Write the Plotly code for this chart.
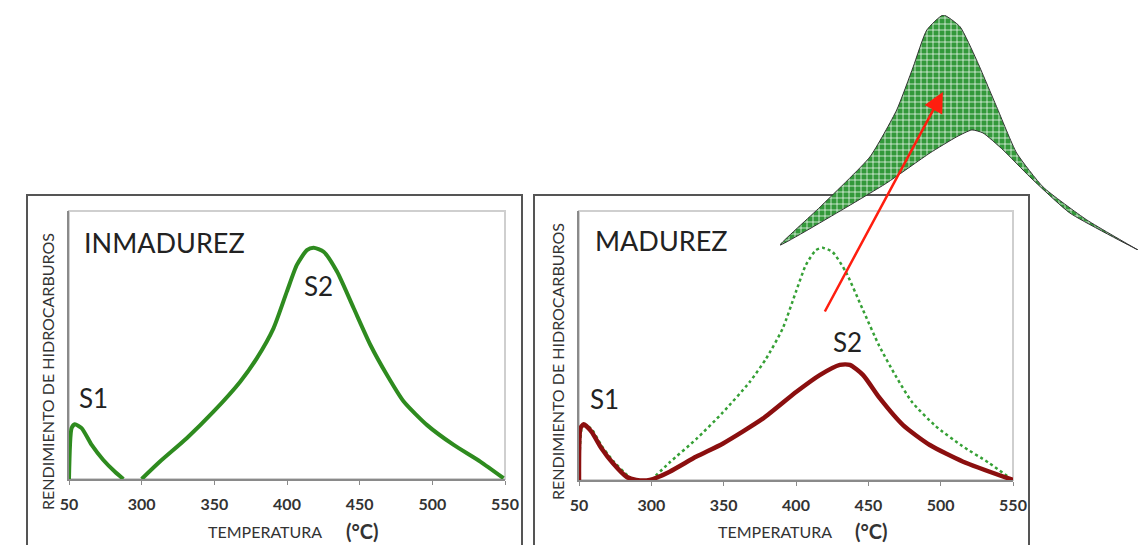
import plotly.graph_objects as go

W, H = 1144, 545

# ---------------- data ----------------
# x in axis units: the axis is broken, the start (250) is labelled "50"
tick_vals = [250, 300, 350, 400, 450, 500, 550]
tick_text = ["50", "300", "350", "400", "450", "500", "550"]

# immature (INMADUREZ) pyrogram: S1 segment, gap, S2 segment
imm_x = [250, 251.8, 254, 258.7, 265.6, 273.6, 281.6, 287.4, None,
         300, 312.6, 331, 349.4, 367.8, 379.2, 390.7, 399.9, 406.8, 413.7,
         418.3, 425.2, 434.4, 445.9, 457.4, 468.8, 480.3, 496.4, 514.7, 533, 549]
imm_y = [0, 19, 20.4, 19, 12.7, 7.1, 2.7, 0, None,
         0, 6.5, 15.2, 25.1, 36.3, 45, 56.2, 69.9, 79.9, 85.4,
         86.3, 84.8, 77.4, 63.7, 50, 38.8, 28.9, 20.1, 12.7, 6.5, 0.3]

# mature (MADUREZ) pyrogram
mat_x = [250, 251, 253.2, 258.6, 265.5, 273.5, 282.8, 289.6, 298.9, 312.7, 331.2,
         349.6, 377.3, 400.3, 416.4, 430.3, 437.2, 446.4, 457.9, 474, 492.5, 515.5, 550]
mat_y = [0, 19.2, 20.7, 18, 11.8, 6.2, 1.2, 0, 0, 3.1, 8.7,
         13.6, 22.9, 32.8, 39, 42.8, 42.8, 39, 30.4, 20.4, 13, 6.8, 0]

# inset: generated-hydrocarbon band (upper and lower outlines)
inset_up_x = [0, 11.2, 25.1, 32.6, 37.2, 41, 45.6, 50.3, 54.9, 60.5, 66.1, 73.5, 85.7, 100]
inset_up_y = [2.1, 18.3, 39.6, 59.6, 77.9, 93.6, 100, 95, 80.9, 61, 41.3, 26.8, 12.8, 0]
inset_lo_x = [0, 15.8, 29.8, 41.9, 49.4, 53.6, 56.7, 62.3, 69.8, 81, 100]
inset_lo_y = [2.1, 15.7, 28.5, 41.3, 48.2, 51.1, 49.8, 42.6, 31.1, 15.7, 0]

# arrow (inset units): tail -> head
arrow_tail = (12.3, -26.8)
arrow_head = (45.5, 67.2)


def px_x(p):
    return p / W


def px_y(p):
    return 1 - p / H


FONT = "Lato"
GREEN = "#2E8B1F"
RED = "#8B0F0F"

fig = go.Figure()

# left panel
fig.add_trace(go.Scatter(x=imm_x, y=imm_y, mode="lines", xaxis="x", yaxis="y",
                         line=dict(color=GREEN, width=4, shape="spline", smoothing=0.6),
                         showlegend=False, hoverinfo="skip"))
# right panel
fig.add_trace(go.Scatter(x=imm_x, y=imm_y, mode="lines", xaxis="x2", yaxis="y2",
                         line=dict(color="#35A035", width=2.5, dash="dot", shape="spline", smoothing=0.6),
                         showlegend=False, hoverinfo="skip"))
fig.add_trace(go.Scatter(x=mat_x, y=mat_y, mode="lines", xaxis="x2", yaxis="y2",
                         line=dict(color=RED, width=4.5, shape="spline", smoothing=0.6),
                         showlegend=False, hoverinfo="skip"))
# inset band
band_x = inset_up_x + inset_lo_x[::-1]
band_y = inset_up_y + inset_lo_y[::-1]
fig.add_trace(go.Scatter(x=band_x, y=band_y, mode="lines", xaxis="x3", yaxis="y3",
                         fill="toself", fillcolor="#2E942E",
                         fillpattern=dict(shape="+", fgcolor="white", bgcolor="#33993A",
                                          size=6, solidity=0.22, fgopacity=1),
                         line=dict(color="#333333", width=1, shape="spline", smoothing=0.5),
                         showlegend=False, hoverinfo="skip"))

axis_common = dict(showgrid=False, zeroline=False, automargin=False)
xcommon = dict(axis_common, range=[250, 550], tickvals=tick_vals, ticktext=tick_text,
               showline=True, linecolor="#8a8a8a", linewidth=1.5,
               ticks="outside", ticklen=4, tickcolor="#8a8a8a",
               ticklabelstandoff=6,
               tickfont=dict(family=FONT, size=16, color="#333333", weight="bold"))
ycommon = dict(axis_common, range=[0, 100], showticklabels=False, ticks="",
               showline=True, linecolor="#8a8a8a", linewidth=1.5)

fig.update_layout(
    width=W, height=H, autosize=False,
    margin=dict(l=0, r=0, t=0, b=0, pad=0),
    paper_bgcolor="white", plot_bgcolor="rgba(0,0,0,0)",
    xaxis=dict(xcommon, domain=[px_x(69), px_x(505)], anchor="y"),
    yaxis=dict(ycommon, domain=[px_y(479), px_y(211)], anchor="x"),
    xaxis2=dict(xcommon, domain=[px_x(579), px_x(1013)], anchor="y2"),
    yaxis2=dict(ycommon, domain=[px_y(480), px_y(211)], anchor="x2"),
    xaxis3=dict(axis_common, domain=[px_x(780), px_x(1138)], range=[0, 100], visible=False, anchor="y3"),
    yaxis3=dict(axis_common, domain=[px_y(250), px_y(15)], range=[0, 100], visible=False, anchor="x3"),
)

shapes = []
# outer frames
for x0, x1 in [(27, 522), (534, 1029)]:
    shapes.append(dict(type="rect", xref="paper", yref="paper",
                       x0=px_x(x0), x1=px_x(x1), y0=-0.1, y1=px_y(195),
                       line=dict(color="#555555", width=2), layer="below"))
# light plot-area borders
for xr, yr in [("x domain", "y domain"), ("x2 domain", "y2 domain")]:
    shapes.append(dict(type="rect", xref=xr, yref=yr, x0=0, x1=1, y0=0, y1=1,
                       line=dict(color="#cfcfcf", width=2), layer="below"))
fig.update_layout(shapes=shapes)

ann = []
TXT = "#222222"
# panel titles
ann.append(dict(text="INMADUREZ", xref="paper", yref="paper", x=px_x(82), y=px_y(242),
                xanchor="left", yanchor="middle", showarrow=False,
                font=dict(family=FONT, size=27, color=TXT)))
ann.append(dict(text="MADUREZ", xref="paper", yref="paper", x=px_x(593), y=px_y(241),
                xanchor="left", yanchor="middle", showarrow=False,
                font=dict(family=FONT, size=27, color=TXT)))
# peak labels
for t, x, y in [("S1", 94, 398), ("S2", 318, 286), ("S1", 604, 399), ("S2", 847, 342)]:
    ann.append(dict(text=t, xref="paper", yref="paper", x=px_x(x), y=px_y(y),
                    xanchor="center", yanchor="middle", showarrow=False,
                    font=dict(family=FONT, size=26, color=TXT)))
# axis titles
for xc_t, xc_u in [(265, 362), (775, 872)]:
    ann.append(dict(text="TEMPERATURA", xref="paper", yref="paper", x=px_x(xc_t), y=px_y(531),
                    xanchor="center", yanchor="middle", showarrow=False,
                    font=dict(family=FONT, size=16, color="#333333")))
    ann.append(dict(text="<b>(°C)</b>", xref="paper", yref="paper", x=px_x(xc_u), y=px_y(531),
                    xanchor="center", yanchor="middle", showarrow=False,
                    font=dict(family=FONT, size=20, color="#333333")))
for xc, ycy in [(47, 372), (557, 362)]:
    ann.append(dict(text="RENDIMIENTO DE HIDROCARBUROS", xref="paper", yref="paper",
                    x=px_x(xc), y=px_y(ycy), xanchor="center", yanchor="middle",
                    textangle=-90, showarrow=False,
                    font=dict(family=FONT, size=16, color="#333333")))
# red arrow
ann.append(dict(text="", xref="x3", yref="y3", x=arrow_head[0], y=arrow_head[1],
                axref="x3", ayref="y3", ax=arrow_tail[0], ay=arrow_tail[1],
                showarrow=True, arrowhead=2, arrowsize=1.6, arrowwidth=2.5,
                arrowcolor="#FF1E0F"))
fig.update_layout(annotations=ann)

fig.write_html("out.html", config={"responsive": False, "displayModeBar": False},
               post_script="document.body.style.margin='0';document.body.style.overflow='hidden';")
